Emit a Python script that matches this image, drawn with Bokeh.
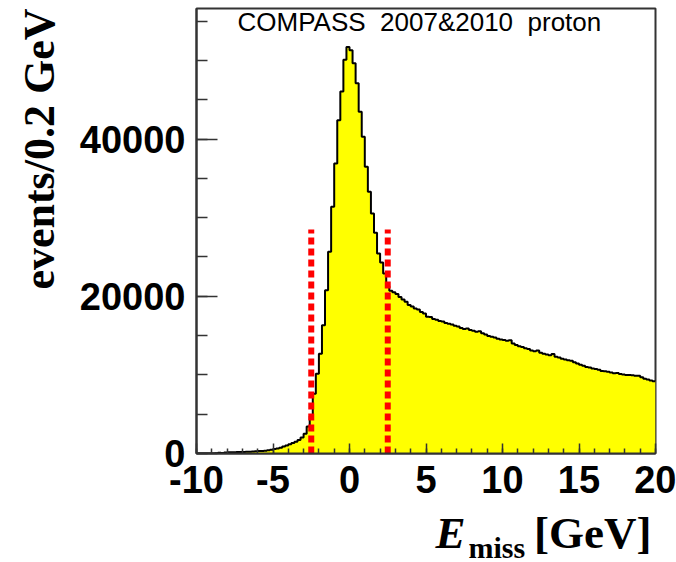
import numpy as np
from bokeh.plotting import figure
from bokeh.layouts import column
from bokeh.models import Label, SingleIntervalTicker, NumeralTickFormatter, Range1d, Title
from bokeh.core.properties import value
from bokeh.embed import file_html
from bokeh.resources import INLINE

# ---- data ----
bin_width = 0.2
x_start, x_end = -10, 20
y_end = 56600

counts = [
    0, 0, 0, 0, 0, 0, 40, 110, 60, 140,                                   # -10.0 .. -8.2
    150, 160, 170, 180, 190, 200, 210, 230, 260, 290,                     # -8.0 .. -6.2
    310, 330, 360, 420, 480, 560, 650, 740, 890, 1020,                    # -6.0 .. -4.2
    1180, 1320, 1500, 1720, 2050, 2500, 3450, 4750, 7600, 10150,          # -4.0 .. -2.2
    12700, 16300, 20770, 25650, 31380, 36900, 42400, 46030, 50070, 51690, # -2.0 .. -0.2
    51300, 49650, 47100, 43480, 40300, 36480, 33290, 30540, 28070, 25440, # 0.0 .. 1.8
    24300, 22900, 21300, 20700, 20500, 20300, 19900, 19600, 19300, 18900, # 2.0 .. 3.8
    18700, 18450, 18300, 18000, 17800, 17400, 17350, 17100, 17000, 16850, # 4.0 .. 5.8
    16800, 16600, 16500, 16400, 16250, 16150, 15950, 15850, 15900, 15700, # 6.0 .. 7.8
    15600, 15500, 15550, 15300, 15150, 14950, 14850, 14750, 14600, 14500, # 8.0 .. 9.8
    14450, 14350, 14400, 14000, 13800, 13650, 13550, 13400, 13300, 13100, # 10.0 .. 11.8
    13000, 13100, 12800, 12700, 12600, 12500, 12650, 12300, 12200, 12050, # 12.0 .. 13.8
    11950, 11850, 11800, 11600, 11450, 11300, 11150, 11000, 10950, 10800, # 14.0 .. 15.8
    10750, 10650, 10500, 10450, 10400, 10300, 10200, 10250, 10100, 10050, # 16.0 .. 17.8
    10000, 9980, 9950, 9880, 9900, 9700, 9500, 9400, 9300, 9200,          # 18.0 .. 19.8
]

cut_positions = [-2.5, 2.5]
cut_top = 28500

title_text = "COMPASS \u00a02007&2010 \u00a0proton"
y_label_text = "events/0.2 GeV"
x_label_main = "E"
x_label_sub = "miss"
x_label_unit = "[GeV]"

# ---- main plot ----
edges = x_start + bin_width * np.arange(len(counts) + 1)
lefts = edges[:-1]

W = 676
H_main = 514
H_lab = 48
B_left, B_right = 196, 21

p = figure(width=W, height=H_main, x_range=Range1d(x_start, x_end), y_range=Range1d(0, y_end),
           output_backend="svg", toolbar_location=None, title=None,
           min_border_left=B_left, min_border_right=B_right, min_border_top=8,
           min_border_bottom=H_main - 453)

p.background_fill_color = "white"
p.border_fill_color = "white"
p.xgrid.visible = False
p.ygrid.visible = False
p.outline_line_color = "#333333"
p.outline_line_width = 2

step_x = list(lefts) + [x_end]
step_y = list(counts) + [counts[-1]]
p.varea_step(x=step_x, y1=[0] * len(step_x), y2=step_y, step_mode="after", fill_color="#ffff00")
p.step(x=step_x, y=step_y, mode="after", line_color="black", line_width=2)

p.segment(x0=cut_positions, y0=[0] * len(cut_positions), x1=cut_positions, y1=[cut_top] * len(cut_positions),
          line_color="#ff0000", line_width=6, line_dash="7 4")

# axes
xa = p.xaxis[0]
xa.ticker = SingleIntervalTicker(interval=5, num_minor_ticks=5)
xa.formatter = NumeralTickFormatter(format="0")
xa.major_tick_in = 10
xa.major_tick_out = 0
xa.minor_tick_in = 5
xa.minor_tick_out = 0
xa.major_label_standoff = 12
ya = p.yaxis[0]
ya.ticker = SingleIntervalTicker(interval=20000, num_minor_ticks=4)
ya.formatter = NumeralTickFormatter(format="0")
ya.major_tick_in = 21
ya.major_tick_out = 0
ya.minor_tick_in = 11
ya.minor_tick_out = 0
ya.major_label_standoff = 11

for ax in (xa, ya):
    ax.axis_line_color = "#333333"
    ax.axis_line_width = 2
    ax.major_tick_line_color = "#333333"
    ax.minor_tick_line_color = "#333333"
    ax.major_tick_line_width = 1.5
    ax.minor_tick_line_width = 1.5
    ax.major_label_text_font = "Liberation Sans"
    ax.major_label_text_font_style = "bold"
    ax.major_label_text_font_size = "38px"
    ax.major_label_text_color = "black"

p.add_layout(Label(x=-7.32, y=54940, text=title_text, text_font="Liberation Sans",
                   text_font_size="26px", text_color="black", text_align="left",
                   text_baseline="alphabetic"))

p.add_layout(Title(text=y_label_text, align="right", vertical_align="top",
                   text_font="Liberation Serif",
                   text_font_style="bold", text_font_size="44px", text_color="black",
                   standoff=22), "left")

# ---- x-axis title strip: same x scale as the plot, y in pixels up from the strip bottom ----
p2 = figure(frame_width=W - B_left - B_right, frame_height=H_lab, x_range=p.x_range,
            y_range=Range1d(0, H_lab),
            output_backend="svg", toolbar_location=None, title=None,
            min_border_left=B_left, min_border_right=B_right, min_border_top=0, min_border_bottom=0,
            x_axis_type=None, y_axis_type=None)
p2.outline_line_color = None
p2.background_fill_color = "white"
p2.border_fill_color = "white"
p2.grid.visible = False

p2.text(x=[5.62], y=[30], text=[x_label_main], text_font=value("Liberation Serif"),
        text_font_style="bold italic", text_font_size="45px", text_color="black",
        text_align="left", text_baseline="alphabetic")
p2.text(x=[7.78], y=[15], text=[x_label_sub], text_font=value("Liberation Serif"),
        text_font_style="bold", text_font_size="30px", text_color="black",
        text_align="left", text_baseline="alphabetic")
p2.text(x=[19.74], y=[30], text=[x_label_unit], text_font=value("Liberation Serif"),
        text_font_style="bold", text_font_size="45px", text_color="black",
        text_align="right", text_baseline="alphabetic")

layout = column(p, p2, spacing=0)
open("out.html", "w").write(file_html(layout, INLINE))
